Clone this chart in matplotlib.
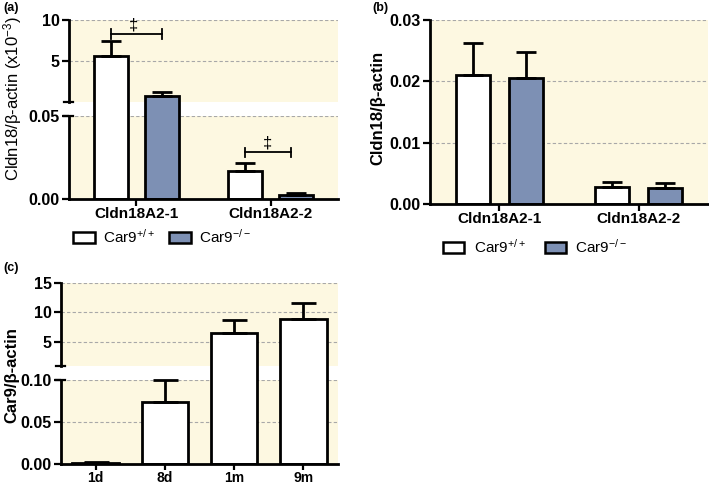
import numpy as np
import matplotlib
matplotlib.use('Agg')
import matplotlib.pyplot as plt
from matplotlib.patches import Patch

plt.rcParams['font.family'] = ['Liberation Sans', 'DejaVu Sans']
plt.rcParams['mathtext.fontset'] = 'custom'
plt.rcParams['mathtext.rm'] = 'Liberation Sans'
plt.rcParams['mathtext.default'] = 'regular'

# ---- data ----
genes = ['Cldn18A2-1', 'Cldn18A2-2']
groups = ['Car9$^{+/+}$', 'Car9$^{-/-}$']

# panel (a), values x10^-3 (broken axis)
a_wt = [5.6, 0.0169]
a_wt_err = [1.8, 0.0049]
a_ko = [0.78, 0.0024]
a_ko_err = [0.53, 0.001]

# panel (b)
b_wt = [0.0210, 0.00282]
b_wt_err = [0.0053, 0.00082]
b_ko = [0.0205, 0.00256]
b_ko_err = [0.0043, 0.00082]

# panel (c)
ages = ['1d', '8d', '1m', '9m']
c_val = [0.0018, 0.0742, 6.5, 8.93]
c_err = [0.0006, 0.0255, 2.27, 2.62]

BG = '#FDF8E1'
BLUE = '#7D90B4'
GRID = '#A8A8A8'


def broken_scale(a, b, top, L, G, U):
    # piecewise linear: [0,a] -> L, gap [a,b] -> G, [b,top] -> U
    def fwd(y):
        y = np.asarray(y, float)
        return np.where(y <= a, y / a * L,
                        np.where(y < b, L + (y - a) / (b - a) * G,
                                 L + G + (y - b) / (top - b) * U))

    def inv(t):
        t = np.asarray(t, float)
        return np.where(t <= L, t / L * a,
                        np.where(t < L + G, a + (t - L) / G * (b - a),
                                 b + (t - L - G) / U * (top - b)))
    return fwd, inv


def style(ax, xlabels, xticks, xsize=11):
    ax.set_facecolor(BG)
    for s in ['top', 'right']:
        ax.spines[s].set_visible(False)
    ax.spines['bottom'].set_linewidth(2)
    ax.spines['left'].set_linewidth(2)
    ax.tick_params(axis='both', width=1.6, length=5, labelsize=11.5, pad=1.5)
    ax.tick_params(axis='x', pad=1)
    ax.set_xticks(xticks)
    ax.set_xticklabels(xlabels, fontweight='bold', fontsize=xsize)
    for t in ax.get_yticklabels():
        t.set_fontweight('bold')


def broken_axis(ax, a, b, top):
    ax.spines['left'].set_visible(False)
    tr = ax.get_yaxis_transform()
    ax.plot([0, 0], [0, a], color='k', lw=2, transform=tr, clip_on=False, zorder=5)
    ax.plot([0, 0], [b, top], color='k', lw=2, transform=tr, clip_on=False, zorder=5)
    for y in [a, b]:
        ax.plot([-0.018, 0.015], [y, y], color='k', lw=1.6, transform=tr,
                clip_on=False, zorder=5)
    ax.axhspan(a, b, color='white', lw=0, zorder=0.6)


def bracket(ax, x0, x1, y, h):
    ax.plot([x0, x1], [y, y], color='k', lw=1.3, zorder=4)
    ax.plot([x0, x0], [y - h, y + h], color='k', lw=1.3, zorder=4)
    ax.plot([x1, x1], [y - h, y + h], color='k', lw=1.3, zorder=4)


def grid(ax, vals):
    for g in vals:
        ax.axhline(g, color=GRID, ls=(0, (3, 2)), lw=0.8, zorder=0.5)


fig = plt.figure(figsize=(7.09, 4.84), dpi=100)
W, H = 709, 484

# ---------- (a) ----------
axa = fig.add_axes([69 / W, 1 - 198.7 / H, 269 / W, 178.7 / H])
fa = broken_scale(0.05, 0.06, 10, 82.7, 14, 82)
axa.set_yscale('function', functions=fa)
x = np.arange(len(genes))
off, w = 0.19, 0.255
axa.bar(x - off, a_wt, w, color='white', edgecolor='k', lw=2, zorder=2)
axa.bar(x + off, a_ko, w, color=BLUE, edgecolor='k', lw=2, zorder=2)
axa.errorbar(x - off, a_wt, yerr=[np.zeros(2), a_wt_err], fmt='none', ecolor='k',
             elinewidth=2, capsize=7, capthick=2, zorder=3)
axa.errorbar(x + off, a_ko, yerr=[np.zeros(2), a_ko_err], fmt='none', ecolor='k',
             elinewidth=2, capsize=7, capthick=2, zorder=3)
grid(axa, [0.05, 5, 10])
axa.set_xlim(-0.5, 1.5)
axa.set_ylim(0, 10)
axa.set_yticks([0, 0.05, 5, 10])
axa.set_yticklabels(['0.00', '0.05', '5', '10'])
style(axa, genes, x)
broken_axis(axa, 0.05, 0.06, 10)
bracket(axa, -0.19, 0.19, 8.33, 0.6)
axa.text(-0.02, 9.35, '\u2021', ha='center', va='center', fontsize=12)
bracket(axa, 0.81, 1.15, 0.0281, 0.0027)
axa.text(0.975, 0.0337, '\u2021', ha='center', va='center', fontsize=12)
fig.text(13 / W, 1 - 99 / H, 'Cldn18/\u03b2-actin (x10$^{-3}$)', rotation=90,
         ha='center', va='center', fontsize=12)

# ---------- (b) ----------
axb = fig.add_axes([430 / W, 1 - 204 / H, 278 / W, 184 / H])
axb.bar(x - off, b_wt, 0.25, color='white', edgecolor='k', lw=2, zorder=2)
axb.bar(x + off, b_ko, 0.25, color=BLUE, edgecolor='k', lw=2, zorder=2)
axb.errorbar(x - off, b_wt, yerr=[np.zeros(2), b_wt_err], fmt='none', ecolor='k',
             elinewidth=2, capsize=7.5, capthick=2, zorder=3)
axb.errorbar(x + off, b_ko, yerr=[np.zeros(2), b_ko_err], fmt='none', ecolor='k',
             elinewidth=2, capsize=7.5, capthick=2, zorder=3)
grid(axb, [0.01, 0.02, 0.03])
axb.set_xlim(-0.5, 1.5)
axb.set_ylim(0, 0.03)
axb.set_yticks([0, 0.01, 0.02, 0.03])
axb.set_yticklabels(['0.00', '0.01', '0.02', '0.03'])
style(axb, genes, x)
fig.text(378 / W, 1 - 108 / H, 'Cldn18/\u03b2-actin', rotation=90,
         ha='center', va='center', fontsize=12, fontweight='bold')

# ---------- (c) ----------
axc = fig.add_axes([61 / W, 1 - 464.3 / H, 277 / W, 181.6 / H])
fc = broken_scale(0.10, 1, 15, 84.3, 14, 83.3)
axc.set_yscale('function', functions=fc)
xc = np.arange(len(ages))
axc.bar(xc, c_val, 0.67, color='white', edgecolor='k', lw=2, zorder=2)
axc.errorbar(xc, c_val, yerr=[np.zeros(4), c_err], fmt='none', ecolor='k',
             elinewidth=2, capsize=9, capthick=2, zorder=3)
grid(axc, [0.05, 0.10, 5, 10, 15])
axc.set_xlim(-0.5, 3.5)
axc.set_ylim(0, 15)
axc.set_yticks([0, 0.05, 0.10, 5, 10, 15])
axc.set_yticklabels(['0.00', '0.05', '0.10', '5', '10', '15'])
style(axc, ages, xc, xsize=10)
axc.tick_params(axis='x', length=4, pad=0.5)
broken_axis(axc, 0.10, 1, 15)
fig.text(12 / W, 1 - 375 / H, 'Car9/\u03b2-actin', rotation=90,
         ha='center', va='center', fontsize=12, fontweight='bold')

# ---------- legends ----------
handles = [Patch(facecolor='white', edgecolor='k', lw=1.8),
           Patch(facecolor=BLUE, edgecolor='k', lw=1.8)]
fig.legend(handles, groups, loc='center left', bbox_to_anchor=(73 / W, 1 - 237 / H),
           ncol=2, frameon=False, fontsize=11, handlelength=1.45, handleheight=0.8,
           handletextpad=0.5, columnspacing=0.9, borderpad=0, borderaxespad=0)
fig.legend(handles, groups, loc='center left', bbox_to_anchor=(443 / W, 1 - 247 / H),
           ncol=2, frameon=False, fontsize=11, handlelength=1.4, handleheight=0.8,
           handletextpad=0.6, columnspacing=1.25, borderpad=0, borderaxespad=0)

# panel letters
fig.text(3 / W, 1 - 2 / H, '(a)', fontsize=9, fontweight='bold', va='top')
fig.text(372 / W, 1 - 2 / H, '(b)', fontsize=9, fontweight='bold', va='top')
fig.text(3 / W, 1 - 262 / H, '(c)', fontsize=9, fontweight='bold', va='top')

fig.savefig('out.png', dpi=100)
